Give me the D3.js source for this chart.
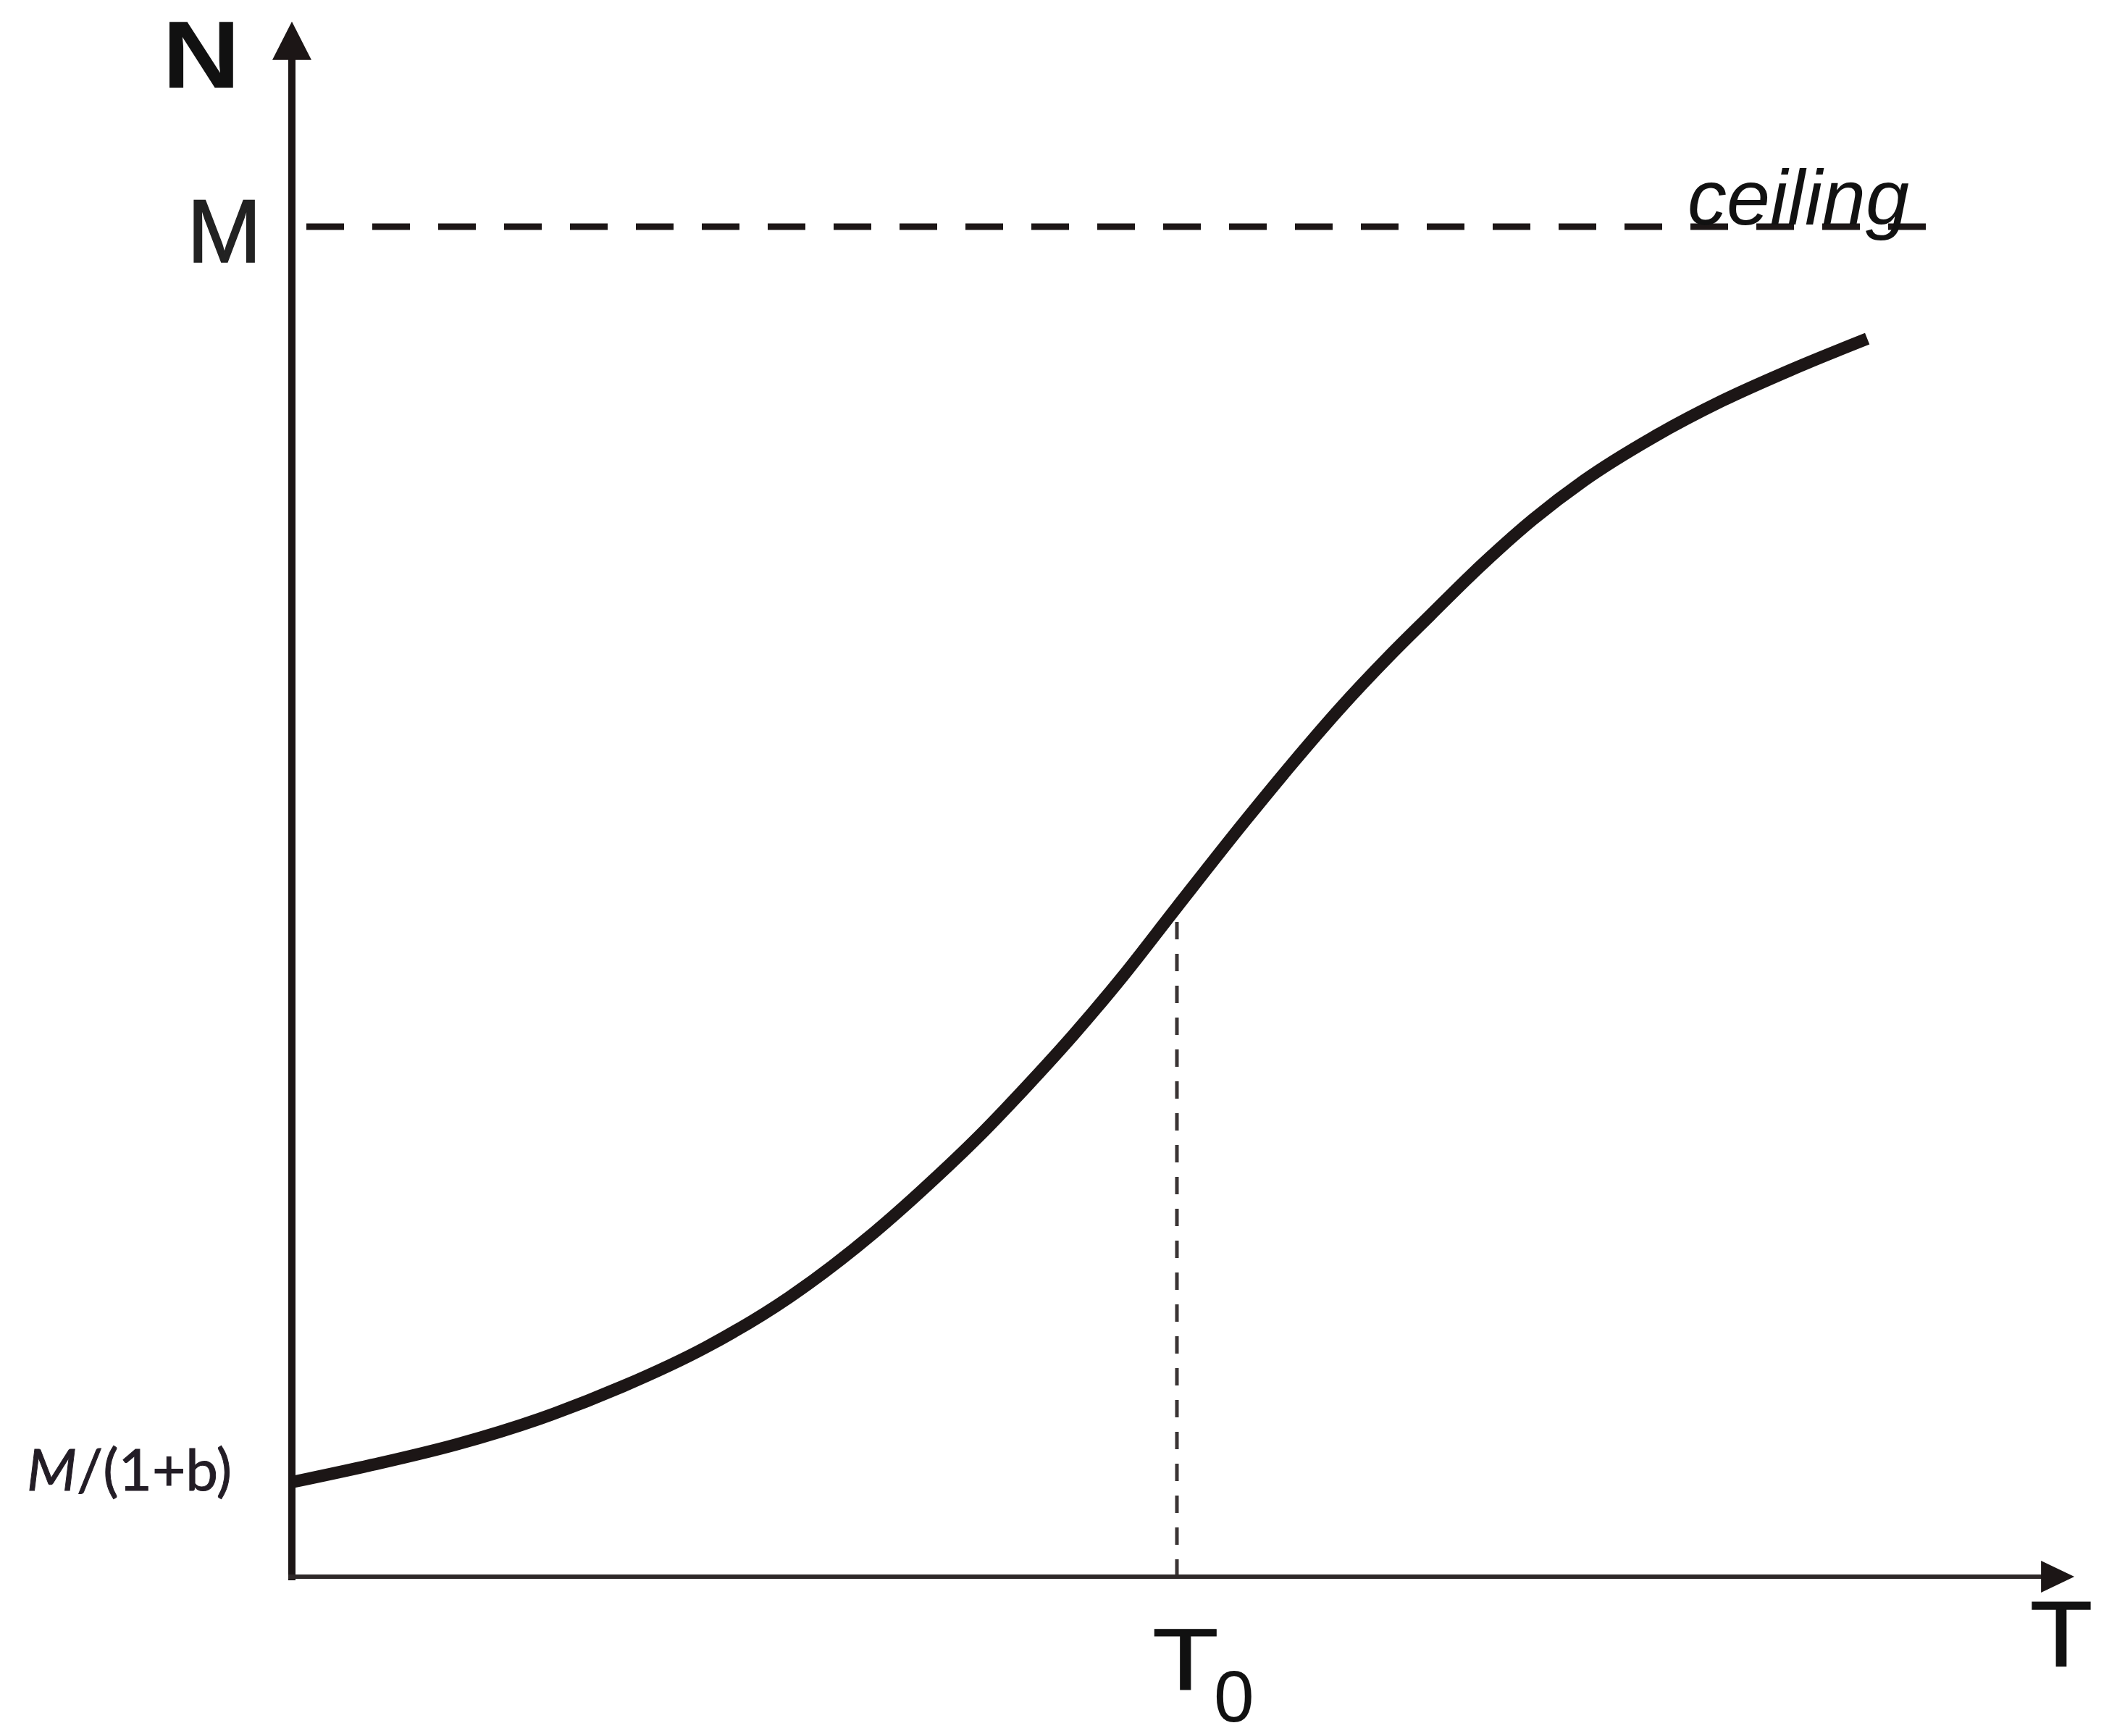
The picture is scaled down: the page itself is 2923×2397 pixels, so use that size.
<!DOCTYPE html>
<html>
<head>
<meta charset="utf-8">
<script src="https://cdn.jsdelivr.net/npm/d3@7"></script>
<style>
    html, body { margin: 0; padding: 0; background: #fff; }
    svg { display: block; }
</style>
</head>
<body>
<svg id="chart" width="2923" height="2397"></svg>
<script>
// values (T in % of axis, N in % of the ceiling M)
var curveT = [0, 4.6, 9.3, 14.0, 18.7, 23.4, 28.1, 32.9, 36.0, 38.8, 41.5, 44.2, 46.9, 50.0, 53.8, 56.5, 59.2, 62.0, 64.3, 67.1, 70.1, 73.0, 76.9, 80.8, 84.7, 89.0];
var curveN = [7.0, 8.3, 9.8, 11.7, 14.1, 17.0, 20.7, 25.5, 29.1, 32.6, 36.3, 40.2, 44.4, 49.6, 55.9, 60.2, 64.3, 68.2, 71.2, 74.8, 78.3, 81.2, 84.4, 87.1, 89.4, 91.7];

var ceilingN = 100;      // M
var startN = 7.0;        // M/(1+b)
var T0 = 50;
var ceilingEndT = 92.4;

var yLabels = ["M", "M/(1+b)"];
var axisLabels = ["N", "T"];
var ceilingLabel = "ceiling";

var ink = "#1c1616";

draw_chart();

function draw_chart() {
    var svg = d3.select("#chart");

    var x = d3.scaleLinear().domain([0, 100]).range([403, 2847]);
    var y = d3.scaleLinear().domain([0, 100]).range([2177, 313]);

    var points = curveT.map(function(t, i) { return {t: t, n: curveN[i]}; });

    // ceiling line
    svg.append("line")
        .attr("x1", x(0) + 20).attr("x2", x(ceilingEndT))
        .attr("y1", y(ceilingN)).attr("y2", y(ceilingN))
        .attr("stroke", ink)
        .attr("stroke-width", 9)
        .attr("stroke-dasharray", "52,39");

    // T0 marker, dashes start at the axis
    var t0N = curveN[curveT.indexOf(T0)];
    svg.append("line")
        .attr("x1", x(T0)).attr("x2", x(T0))
        .attr("y1", y(0)).attr("y2", y(t0N) + 8)
        .attr("stroke", "#3a3434")
        .attr("stroke-width", 5)
        .attr("stroke-dasharray", "24,20");

    // axes with arrow heads
    var yTop = 115.2, xEnd = 100.7;
    svg.append("line")
        .attr("x1", x(0)).attr("x2", x(0))
        .attr("y1", y(0) + 5).attr("y2", y(yTop) + 40)
        .attr("stroke", ink)
        .attr("stroke-width", 10);
    svg.append("path")
        .attr("d", "M" + x(0) + "," + y(yTop) + "L" + (x(0) - 27) + "," + (y(yTop) + 53) + "L" + (x(0) + 27) + "," + (y(yTop) + 53) + "Z")
        .attr("fill", ink);

    svg.append("line")
        .attr("x1", x(0) - 5).attr("x2", x(xEnd) - 30)
        .attr("y1", y(0)).attr("y2", y(0))
        .attr("stroke", "#2e2828")
        .attr("stroke-width", 6);
    svg.append("path")
        .attr("d", "M" + x(xEnd) + "," + y(0) + "L" + (x(xEnd) - 46) + "," + (y(0) - 22) + "L" + (x(xEnd) - 46) + "," + (y(0) + 22) + "Z")
        .attr("fill", ink);

    // the growth curve
    var line = d3.line()
        .x(function(d) { return x(d.t); })
        .y(function(d) { return y(d.n); })
        .curve(d3.curveMonotoneX);

    svg.append("path")
        .datum(points)
        .attr("d", line)
        .attr("fill", "none")
        .attr("stroke", ink)
        .attr("stroke-width", 17);

    // labels
    svg.append("text")
        .attr("x", 224).attr("y", 121)
        .attr("font-family", "Liberation Sans, Arial, sans-serif")
        .attr("font-weight", "bold")
        .attr("font-size", 131)
        .attr("transform", "translate(224,0) scale(1.14,1) translate(-224,0)")
        .attr("fill", "#111")
        .text(axisLabels[0]);

    svg.append("text")
        .attr("x", 258).attr("y", y(ceilingN) + 49)
        .attr("font-family", "Liberation Sans, Arial, sans-serif")
        .attr("font-size", 124)
        .attr("fill", "#222")
        .attr("stroke", "#222")
        .attr("stroke-width", 1.5)
        .text(yLabels[0]);

    var small = svg.append("text")
        .attr("x", 37).attr("y", y(startN) + 11)
        .attr("font-family", "Lato, Open Sans, sans-serif")
        .attr("font-size", 80)
        .attr("fill", "#231d26")
        .attr("stroke", "#231d26")
        .attr("stroke-width", 1);
    small.append("tspan").attr("font-style", "italic").text(yLabels[1].slice(0, 1));
    small.append("tspan").text(yLabels[1].slice(1));

    svg.append("text")
        .attr("x", 2330).attr("y", y(ceilingN) - 3)
        .attr("font-family", "Liberation Sans, Arial, sans-serif")
        .attr("font-style", "italic")
        .attr("font-size", 108)
        .attr("fill", "#111")
        .text(ceilingLabel);

    svg.append("text")
        .attr("x", 2846).attr("y", 2300)
        .attr("text-anchor", "middle")
        .attr("font-family", "Liberation Sans, Arial, sans-serif")
        .attr("font-size", 128)
        .attr("transform", "translate(2846,0) scale(1.1,1) translate(-2846,0)")
        .attr("fill", "#111")
        .attr("stroke", "#111")
        .attr("stroke-width", 1.5)
        .text(axisLabels[1]);

    // T0 label with subscript
    var t0x = x(T0);
    svg.append("text")
        .attr("x", t0x - 34).attr("y", 2333)
        .attr("font-family", "Liberation Sans, Arial, sans-serif")
        .attr("font-size", 120)
        .attr("transform", "translate(" + (t0x - 34) + ",0) scale(1.25,1) translate(" + (34 - t0x) + ",0)")
        .attr("fill", "#111")
        .attr("stroke", "#111")
        .attr("stroke-width", 1)
        .text("T");
    svg.append("text")
        .attr("x", t0x + 51).attr("y", 2377)
        .attr("font-family", "Liberation Sans, Arial, sans-serif")
        .attr("font-size", 100)
        .attr("fill", "#111")
        .text("0");
}
</script>
</body>
</html>
